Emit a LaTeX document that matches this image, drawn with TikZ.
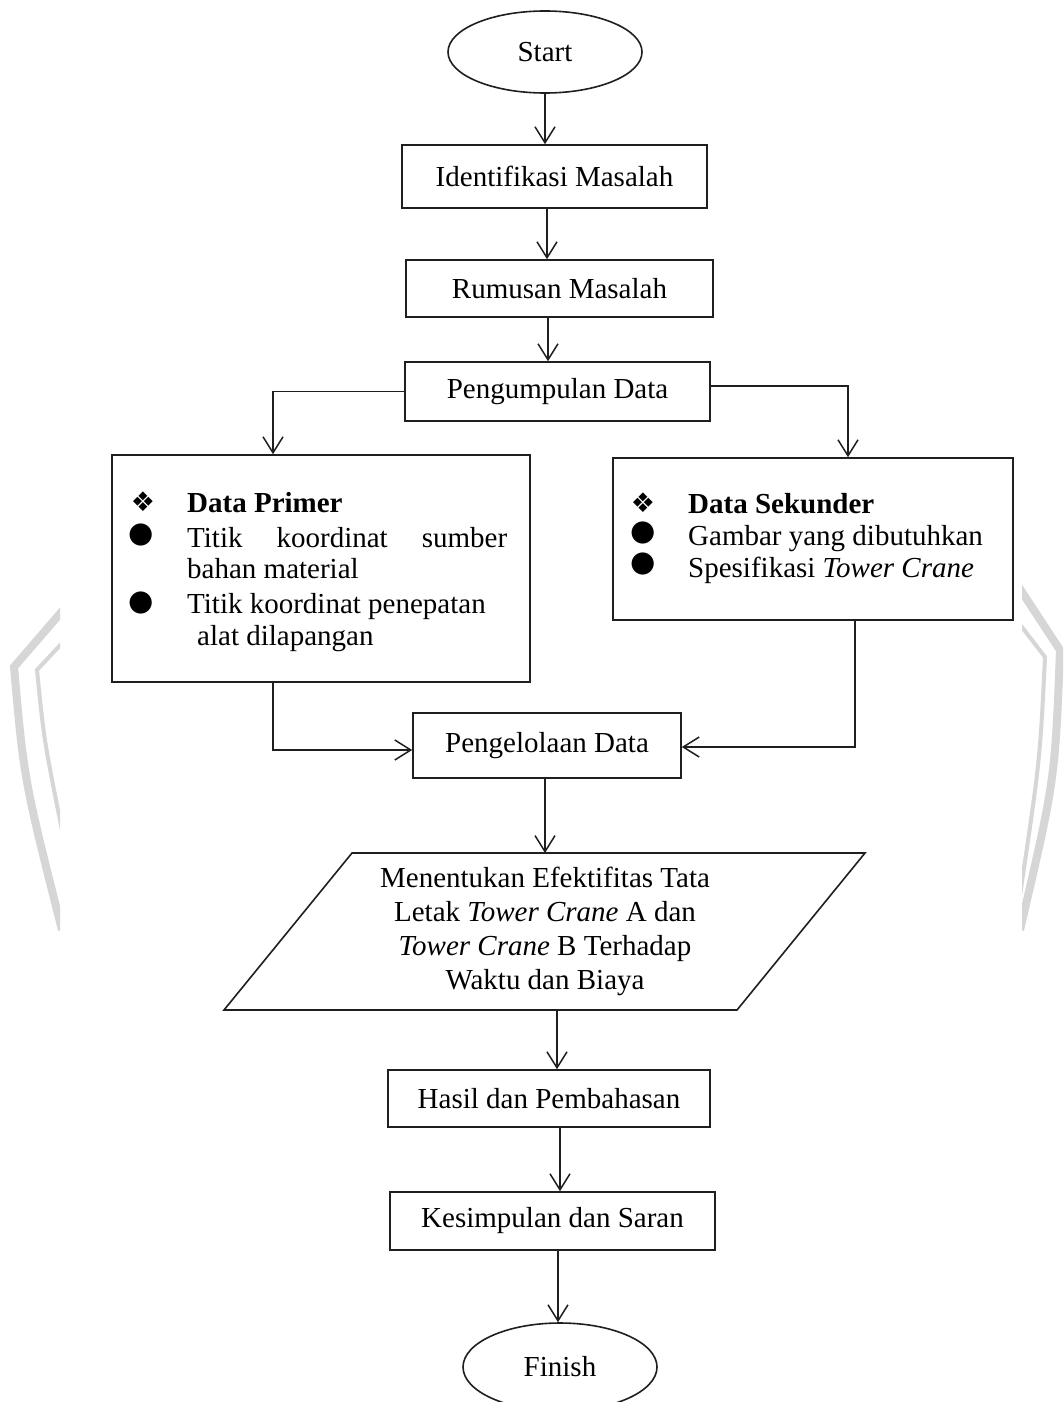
\documentclass[tikz,border=0pt]{standalone}
\usepackage{fontspec}
\setmainfont{Liberation Serif}
\newfontfamily\symfont{DejaVu Sans}
\usetikzlibrary{arrows.meta,shapes.geometric,calc}
\begin{document}
\begin{tikzpicture}[x=1pt,y=-1pt,
  every node/.style={font=\fontsize{29}{34}\selectfont, inner sep=0pt},
  box/.style={draw=black!88, line width=1.6pt, rectangle, inner sep=0pt},
  term/.style={draw=black!88, line width=1.6pt, ellipse, inner sep=0pt},
  arr/.style={line width=1.5pt, draw=black!88, -{Straight Barb[length=16pt,width=20pt,line width=1.5pt]}},
  wm/.style={draw=black!16, line cap=butt, line join=miter},
  itemtxt/.style={anchor=base west},
  sym/.style={anchor=center, font=\symfont\fontsize{27}{27}\selectfont},
  bul/.style={anchor=center, font=\symfont\fontsize{29}{29}\selectfont}
]
\useasboundingbox[fill=white] (0,0) rectangle (1063,1402);

% watermark
\begin{scope}
  \clip (0,0) rectangle (60,1402);
  \draw[wm, line width=8pt] (64,609) -- (14,667) .. controls (24,780) .. (62,930);
  \draw[wm, line width=4pt] (64,641) -- (37,670) .. controls (44,740) .. (62,830);
\end{scope}
\begin{scope}
  \clip (1022,0) rectangle (1063,1402);
  \draw[wm, line width=8pt] (1018,586) -- (1060,650) .. controls (1055,780) .. (1020,930);
  \draw[wm, line width=4pt] (1018,622) -- (1045,657) .. controls (1040,760) .. (1020,895);
\end{scope}

% nodes
\node[term, minimum width=194pt, minimum height=82pt] (start) at (545,52) {Start};
\node[box, minimum width=305pt, minimum height=63pt] (idm) at (554.5,176.5) {Identifikasi Masalah};
\node[box, minimum width=307pt, minimum height=57pt] (rm) at (559.5,288.5) {Rumusan Masalah};
\node[box, minimum width=305pt, minimum height=59pt] (pd) at (557.5,391.5) {Pengumpulan Data};
\node[box, minimum width=418pt, minimum height=227pt] (prim) at (321,568.5) {};
\node[box, minimum width=400pt, minimum height=162pt] (sek) at (813,539) {};
\node[box, minimum width=268pt, minimum height=65pt] (pgl) at (547,745.5) {Pengelolaan Data};

% primer contents
\node[sym] (ps0) at (143,502) {❖};
\node[itemtxt] (pt0) at (187,512) {\textbf{Data Primer}};
\node[bul] (pb1) at (141,535) {●};
\node[itemtxt] (pt1) at (187,547) {\makebox[320pt][s]{Titik koordinat sumber}};
\node[itemtxt] (pt2) at (187,578) {bahan material};
\node[bul] (pb2) at (141,603) {●};
\node[itemtxt] (pt3) at (187,613) {Titik koordinat penepatan};
\node[itemtxt] (pt4) at (197,645) {alat dilapangan};

% sekunder contents
\node[sym] (ss0) at (643,503) {❖};
\node[itemtxt] (st0) at (688,513) {\textbf{Data Sekunder}};
\node[bul] (sb1) at (643,533) {●};
\node[itemtxt] (st1) at (688,545) {Gambar yang dibutuhkan};
\node[bul] (sb2) at (643,564) {●};
\node[itemtxt] (st2) at (688,577) {Spesifikasi \textit{Tower Crane}};

% parallelogram
\draw[line width=1.6pt, draw=black!88, line join=miter] (352,853) -- (865,853) -- (737,1010) -- (224,1010) -- cycle;
\coordinate (ptop) at (545,853);
\coordinate (pbot) at (557,1010);
\node[align=center] (para) at (545,931) {Menentukan Efektifitas Tata\\Letak \textit{Tower Crane} A dan\\\textit{Tower Crane} B Terhadap\\Waktu dan Biaya};

\node[box, minimum width=322pt, minimum height=57pt] (hasil) at (549,1098.5) {Hasil dan Pembahasan};
\node[box, minimum width=325pt, minimum height=58pt] (kes) at (552.5,1221) {Kesimpulan dan Saran};
\node[term, minimum width=194pt, minimum height=88pt] (fin) at (560,1367) {Finish};

% connectors
\draw[arr] (start.south) -- (start.south |- idm.north);
\draw[arr] ([xshift=-7.5pt]idm.south) -- ([xshift=-7.5pt]idm.south |- rm.north);
\draw[arr] ([xshift=-11.5pt]rm.south) -- ([xshift=-11.5pt]rm.south |- pd.north);
\draw[arr] (pd.west) -| ([xshift=-48pt]prim.north);
\draw[arr] ([yshift=5.5pt]pd.east) -| ([xshift=35pt]sek.north);
\draw[arr] ([xshift=-48pt]prim.south) |- ([yshift=-4.5pt]pgl.west);
\draw[arr] ([xshift=42pt]sek.south) |- ([yshift=-1.5pt]pgl.east);
\draw[arr] ([xshift=-2pt]pgl.south) -- (ptop);
\draw[arr] (pbot) -- (pbot |- hasil.north);
\draw[arr] ([xshift=11pt]hasil.south) -- ([xshift=11pt]hasil.south |- kes.north);
\draw[arr] ([xshift=5.5pt]kes.south) -- ([xshift=5.5pt]kes.south |- fin.north);
\end{tikzpicture}
\end{document}
